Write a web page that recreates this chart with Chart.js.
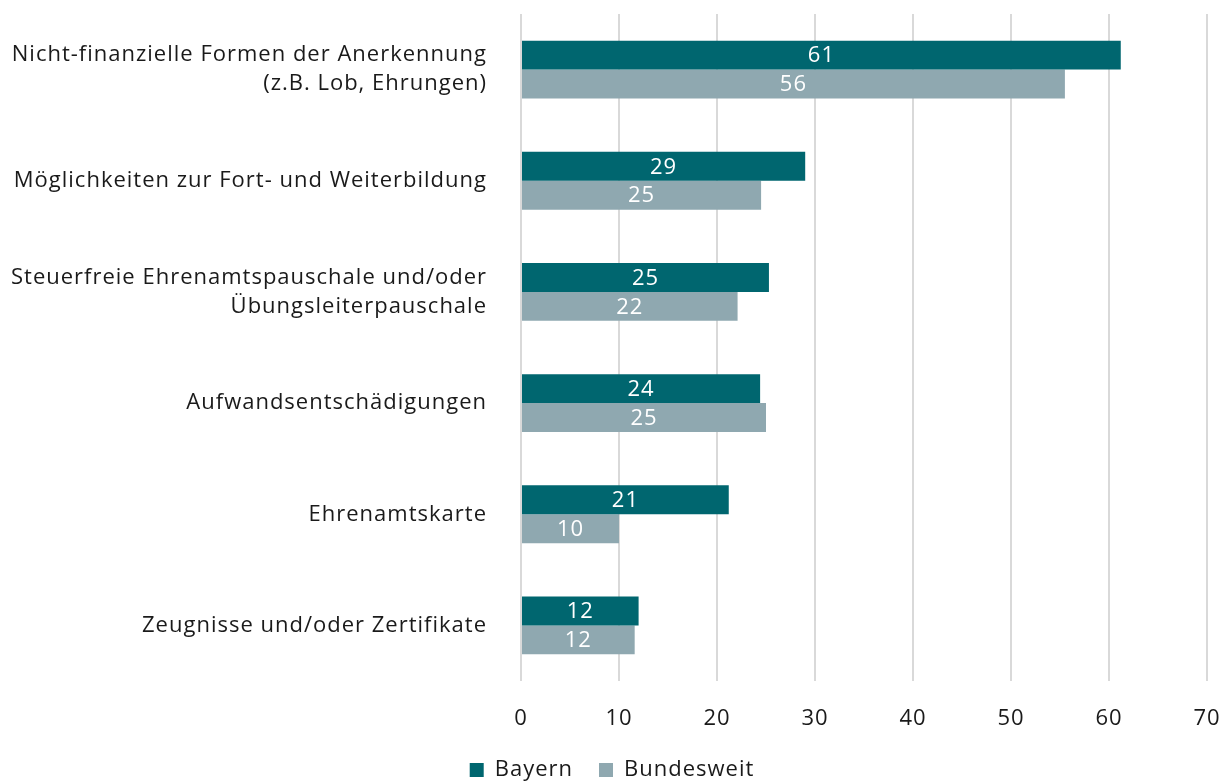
<!DOCTYPE html>
<html>
<head>
<meta charset="utf-8">
<script src="https://cdn.jsdelivr.net/npm/chart.js@4"></script>
<style>
  html, body { margin: 0; padding: 0; background: #fff; }
  #wrap { width: 1224px; height: 781px; }
</style>
</head>
<body>
<div id="wrap"><canvas id="chart"></canvas></div>
<script>
// Kategorien (Achsenbeschriftung)
var kategorien = [
    ['Nicht-finanzielle Formen der Anerkennung', '(z.B. Lob, Ehrungen)'],
    'Möglichkeiten zur Fort- und Weiterbildung',
    ['Steuerfreie Ehrenamtspauschale und/oder', 'Übungsleiterpauschale'],
    'Aufwandsentschädigungen',
    'Ehrenamtskarte',
    'Zeugnisse und/oder Zertifikate'
];

// Werte in Prozent
var bayern = [61.2, 29.0, 25.3, 24.4, 21.2, 12.0];
var bundesweit = [55.5, 24.5, 22.1, 25.0, 10.0, 11.6];

// Achse
var xTicks = [0, 10, 20, 30, 40, 50, 60, 70];

var schrift = "'Open Sans', sans-serif";

// etwas weiterer Buchstabenabstand wie im Original
var abstandPlugin = {
    id: 'abstand',
    beforeUpdate: function (chart) { chart.ctx.letterSpacing = '1px'; },
    beforeDraw: function (chart) { chart.ctx.letterSpacing = '1px'; }
};

// Werte mittig in die Balken schreiben
var wertePlugin = {
    id: 'werte',
    afterDatasetsDraw: function (chart) {
        var ctx = chart.ctx;
        ctx.save();
        ctx.fillStyle = '#ffffff';
        ctx.font = '22px ' + schrift;
        ctx.textAlign = 'center';
        ctx.textBaseline = 'middle';
        chart.data.datasets.forEach(function (ds, i) {
            chart.getDatasetMeta(i).data.forEach(function (bar, j) {
                var x = (bar.x + bar.base) / 2;
                ctx.fillText(Math.round(ds.data[j]), x, bar.y + 1);
            });
        });
        ctx.restore();
    }
};

var ctx = document.getElementById('chart').getContext('2d');

var chart = new Chart(ctx, {
    type: 'bar',
    data: {
        labels: kategorien,
        datasets: [{
            label: 'Bayern',
            data: bayern,
            backgroundColor: '#00666f'
        }, {
            label: 'Bundesweit',
            data: bundesweit,
            backgroundColor: '#8fa8b0'
        }]
    },
    options: {
        indexAxis: 'y',
        responsive: true,
        maintainAspectRatio: false,
        animation: false,
        layout: { padding: { top: 14, right: 0, left: 0, bottom: -10 } },
        datasets: {
            bar: { barPercentage: 1, categoryPercentage: 0.52 }
        },
        scales: {
            x: {
                min: 0,
                max: 70,
                afterBuildTicks: function (scale) {
                    scale.ticks = xTicks.map(function (v) { return { value: v }; });
                },
                afterFit: function (scale) {
                    scale.paddingLeft = 0;
                    scale.paddingRight = 17;
                    scale.height = 52;
                },
                grid: { color: '#d9d9d9', lineWidth: 2, drawTicks: false },
                border: { display: false },
                ticks: {
                    color: '#1a1a1a',
                    font: { family: schrift, size: 22 },
                    padding: 25
                }
            },
            y: {
                grid: { display: false },
                border: { display: false },
                afterFit: function (scale) {
                    scale.width = 521;
                    scale.paddingTop = 0;
                    scale.paddingBottom = 0;
                },
                ticks: {
                    color: '#1a1a1a',
                    font: { family: schrift, size: 22, lineHeight: 1.32 },
                    padding: 26
                }
            }
        },
        plugins: {
            legend: {
                position: 'bottom',
                labels: {
                    color: '#1a1a1a',
                    font: { family: schrift, size: 22 },
                    boxWidth: 14,
                    boxHeight: 14,
                    padding: 26
                }
            },
            tooltip: { enabled: false }
        }
    },
    plugins: [abstandPlugin, wertePlugin]
});
</script>
</body>
</html>
